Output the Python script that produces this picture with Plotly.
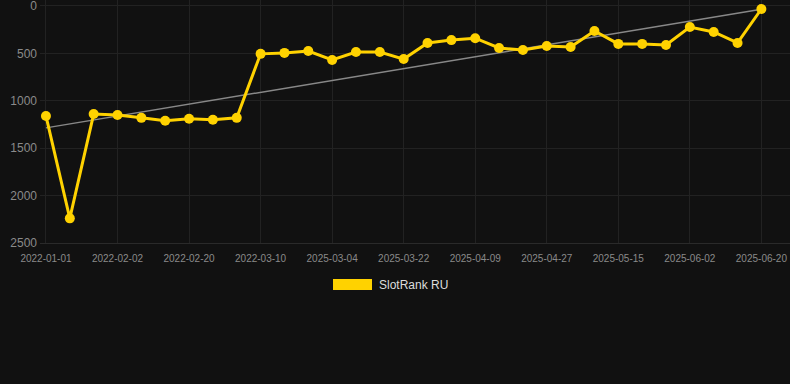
import numpy as np
import plotly.graph_objects as go

dates = [
    "2022-01-01", "2022-01-12", "2022-01-23", "2022-02-02", "2022-02-08", "2022-02-14",
    "2022-02-20", "2022-02-26", "2022-03-04", "2022-03-10", "2025-02-20", "2025-02-26",
    "2025-03-04", "2025-03-10", "2025-03-16", "2025-03-22", "2025-03-28", "2025-04-03",
    "2025-04-09", "2025-04-15", "2025-04-21", "2025-04-27", "2025-05-03", "2025-05-09",
    "2025-05-15", "2025-05-21", "2025-05-27", "2025-06-02", "2025-06-08", "2025-06-14",
    "2025-06-20",
]
rank = [
    1160, 2240, 1140, 1150, 1180, 1210, 1190, 1200, 1180, 505, 495,
    475, 570, 485, 485, 560, 390, 360, 340, 443, 464, 422, 432,
    264, 400, 400, 411, 222, 274, 390, 32,
]
tick_labels = dates[::3]
y_ticks = [0, 500, 1000, 1500, 2000, 2500]
series_name = "SlotRank RU"

idx = np.arange(len(rank))
slope, intercept = np.polyfit(idx, rank, 1)
trend = slope * idx + intercept

fig = go.Figure()
fig.add_trace(go.Scatter(
    x=dates, y=trend, mode="lines",
    line=dict(color="#888888", width=1.5),
    showlegend=False, hoverinfo="skip",
))
fig.add_trace(go.Scatter(
    x=dates, y=rank, mode="lines+markers", name=series_name,
    line=dict(color="#FFD200", width=3),
    marker=dict(color="#FFD200", size=10),
    showlegend=False,
))

H = 243.0
# legend drawn manually
fig.add_shape(type="rect", xref="paper", yref="paper",
              x0=(333 - 40) / 750, x1=(372 - 40) / 750,
              y0=(H - 290) / H, y1=(H - 279) / H,
              fillcolor="#FFD200", line=dict(width=0))
fig.add_annotation(text=series_name, xref="paper", yref="paper",
                   x=(377 - 40) / 750, y=(H - 285) / H,
                   xanchor="left", yanchor="middle", showarrow=False,
                   font=dict(size=12, color="#dddddd", family="Liberation Sans, Arial, sans-serif"))

fig.update_layout(
    width=790, height=384,
    margin=dict(l=40, r=0, t=0, b=141),
    paper_bgcolor="#111111", plot_bgcolor="#111111",
    font=dict(family="Liberation Sans, Arial, sans-serif", color="#8a8a8a"),
    xaxis=dict(
        type="category", categoryorder="array", categoryarray=dates,
        tickmode="array", tickvals=tick_labels, ticktext=tick_labels,
        range=[-0.25, len(dates) - 1 + 1.2],
        showgrid=True, gridcolor="#222222", gridwidth=1,
        zeroline=False, showline=True, linecolor="#2a2a2a",
        tickfont=dict(size=10, color="#8a8a8a"),
        ticks="outside", ticklen=6, tickcolor="rgba(0,0,0,0)",
        ticklabeloverflow="allow",
    ),
    yaxis=dict(
        range=[2500, -63], tickmode="array", tickvals=y_ticks,
        showgrid=True, gridcolor="#222222", gridwidth=1,
        zeroline=False, tickfont=dict(size=12, color="#8a8a8a"),
        ticks="", ticklabelstandoff=2, ticklabeloverflow="allow",
    ),
)

fig.write_html("out.html", config={"displayModeBar": False},
               post_script="document.body.style.margin='0';")
